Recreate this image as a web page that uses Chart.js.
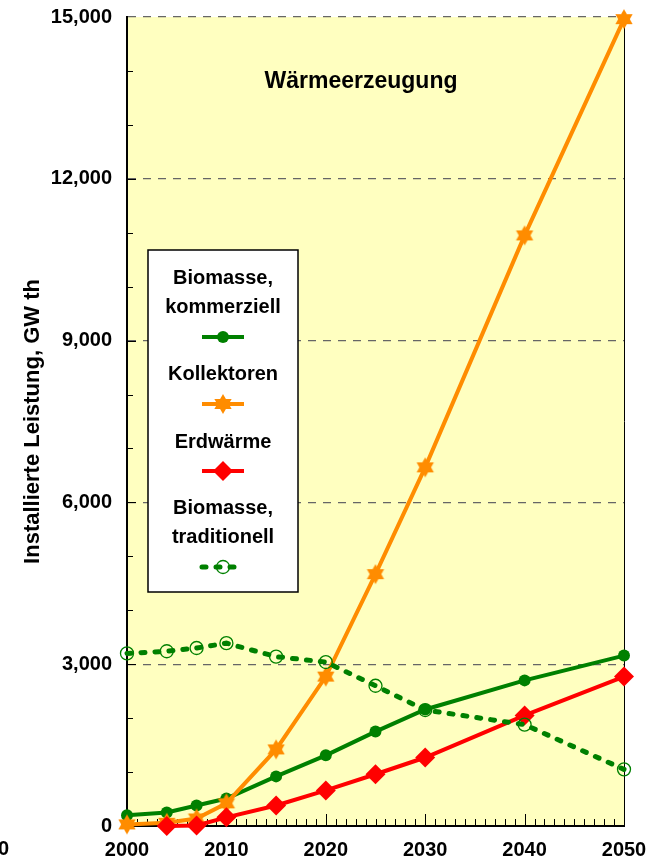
<!DOCTYPE html>
<html>
<head>
<meta charset="utf-8">
<script src="https://cdn.jsdelivr.net/npm/chart.js@4"></script>
<style>
  body { margin: 0; background: #fff; }
  canvas { display: block; }
</style>
</head>
<body>
<canvas id="waermeChart" width="651" height="863"></canvas>
<script>
"use strict";

// Values
const years = [2000, 2004, 2007, 2010, 2015, 2020, 2025, 2030, 2040, 2050];
const biomasseKommerziell = [200, 250, 380, 510, 920, 1310, 1750, 2160, 2700, 3160];
const kollektoren = [30, 60, 140, 420, 1420, 2770, 4670, 6650, 10950, 14960];
const erdwaerme = [null, 0, 10, 160, 380, 660, 960, 1270, 2050, 2770];
const biomasseTraditionell = [3200, 3240, 3300, 3390, 3140, 3040, 2600, 2150, 1880, 1050];

const seriesNames = ["Biomasse,\nkommerziell", "Kollektoren", "Erdwärme", "Biomasse,\ntraditionell"];
const yTicks = [0, 3000, 6000, 9000, 12000, 15000];
const xTicks = [2000, 2010, 2020, 2030, 2040, 2050];

const FONT = "'Liberation Sans', Arial, sans-serif";
const GREEN = "#008000";
const ORANGE = "#FF8C00";
const RED = "#FF0000";

// six-pointed star used as marker for the Kollektoren series
function makeHexagram(r, color) {
	const c = document.createElement("canvas");
	c.width = r * 2 + 2;
	c.height = r * 2 + 2;
	const g = c.getContext("2d");
	const cx = r + 1, cy = r + 1;
	g.fillStyle = color;
	[-Math.PI / 2, Math.PI / 2].forEach(function (start) {
		g.beginPath();
		for (let i = 0; i < 3; i++) {
			const a = start + i * 2 * Math.PI / 3;
			const px = cx + r * Math.cos(a), py = cy + r * Math.sin(a);
			if (i === 0) g.moveTo(px, py); else g.lineTo(px, py);
		}
		g.closePath();
		g.fill();
	});
	return c;
}
const hexagram = makeHexagram(10, ORANGE);

function toPoints(values) {
	return years.map(function (year, i) {
		return { x: year, y: values[i] };
	});
}

// background, minor ticks, right border, texts and the boxed legend
const decorations = {
	id: "decorations",
	beforeDraw(chart) {
		const a = chart.chartArea;
		const ctx = chart.ctx;
		ctx.save();
		ctx.fillStyle = "#FFFFC0";
		ctx.fillRect(a.left, a.top, a.right - a.left, a.bottom - a.top);
		ctx.restore();
	},
	beforeDatasetsDraw(chart) {
		const a = chart.chartArea;
		const ctx = chart.ctx;
		const xs = chart.scales.x;
		const ys = chart.scales.y;
		ctx.save();
		ctx.strokeStyle = "#000";
		ctx.lineWidth = 1;
		for (let yr = 2001; yr < 2050; yr++) {
			const px = Math.round(xs.getPixelForValue(yr)) + 0.5;
			const len = yr % 10 === 0 ? 12 : 7;
			ctx.beginPath();
			ctx.moveTo(px, a.bottom);
			ctx.lineTo(px, a.bottom - len);
			ctx.stroke();
		}
		for (let v = 1000; v < 15000; v += 1000) {
			const py = Math.round(ys.getPixelForValue(v)) + 0.5;
			const len = v % 3000 === 0 ? 9 : 6;
			ctx.beginPath();
			ctx.moveTo(a.left, py);
			ctx.lineTo(a.left + len, py);
			ctx.stroke();
		}
		// right border
		ctx.beginPath();
		ctx.moveTo(a.right + 0.5, a.top);
		ctx.lineTo(a.right + 0.5, a.bottom);
		ctx.stroke();
		ctx.restore();
	},
	afterDraw(chart) {
		const a = chart.chartArea;
		const ctx = chart.ctx;
		ctx.save();
		ctx.fillStyle = "#000";
		ctx.textAlign = "center";
		ctx.textBaseline = "middle";

		// chart title inside the plot
		ctx.font = "bold 23px " + FONT;
		ctx.fillText("Wärmeerzeugung", 361, 82);

		// y axis title
		ctx.save();
		ctx.translate(33, (a.top + a.bottom) / 2);
		ctx.rotate(-Math.PI / 2);
		ctx.font = "bold 22px " + FONT;
		ctx.fillText("Installierte Leistung, GW th", 0, 0);
		ctx.restore();

		// cut-off label of the neighbouring chart
		ctx.font = "bold 20px " + FONT;
		ctx.textAlign = "right";
		ctx.fillText("0", 9, 849);
		ctx.textAlign = "center";

		// legend box
		const box = { left: 148, top: 250, right: 298, bottom: 592 };
		ctx.fillStyle = "#fff";
		ctx.fillRect(box.left, box.top, box.right - box.left, box.bottom - box.top);
		ctx.strokeStyle = "#000";
		ctx.lineWidth = 1.5;
		ctx.strokeRect(box.left, box.top, box.right - box.left, box.bottom - box.top);

		const cx = (box.left + box.right) / 2;
		const textRows = [[278, 307], [374], [442], [508, 537]];
		const sampleRows = [337, 404, 471, 567];
		ctx.font = "bold 20px " + FONT;
		ctx.fillStyle = "#000";
		seriesNames.forEach(function (name, i) {
			name.split("\n").forEach(function (line, j) {
				ctx.fillText(line, cx, textRows[i][j]);
			});
		});

		chart.data.datasets.forEach(function (ds, i) {
			const sy = sampleRows[i];
			ctx.save();
			ctx.strokeStyle = ds.borderColor;
			ctx.lineWidth = ds.borderWidth;
			ctx.lineCap = ds.borderCapStyle || "butt";
			ctx.setLineDash(ds.borderDash || []);
			ctx.beginPath();
			ctx.moveTo(cx - 21, sy);
			ctx.lineTo(cx + 21, sy);
			ctx.stroke();
			ctx.setLineDash([]);
			ctx.fillStyle = ds.pointBackgroundColor || ds.borderColor;
			ctx.strokeStyle = ds.pointBorderColor || ds.borderColor;
			ctx.lineWidth = ds.pointBorderWidth || 0;
			Chart.helpers.drawPoint(ctx, {
				pointStyle: ds.pointStyle,
				radius: ds.pointRadius,
				rotation: 0,
				borderWidth: ds.pointBorderWidth || 0
			}, cx, sy);
			ctx.restore();
		});
		ctx.restore();
	}
};

const ctx = document.getElementById("waermeChart");

new Chart(ctx, {
	type: "line",
	data: {
		datasets: [
			{
				label: "Biomasse, kommerziell",
				data: toPoints(biomasseKommerziell),
				borderColor: GREEN,
				backgroundColor: GREEN,
				borderWidth: 4,
				pointStyle: "circle",
				pointRadius: 6,
				pointBorderWidth: 0,
				pointBackgroundColor: GREEN,
				order: 3
			},
			{
				label: "Kollektoren",
				data: toPoints(kollektoren),
				borderColor: ORANGE,
				backgroundColor: ORANGE,
				borderWidth: 4,
				pointStyle: hexagram,
				pointRadius: 10,
				order: 2
			},
			{
				label: "Erdwärme",
				data: toPoints(erdwaerme),
				borderColor: RED,
				backgroundColor: RED,
				borderWidth: 4,
				pointStyle: "rectRot",
				pointRadius: 10,
				pointBorderWidth: 0,
				pointBackgroundColor: RED,
				order: 1
			},
			{
				label: "Biomasse, traditionell",
				data: toPoints(biomasseTraditionell),
				borderColor: GREEN,
				backgroundColor: "rgba(0,0,0,0)",
				borderWidth: 5,
				borderDash: [4, 10],
				borderCapStyle: "round",
				pointStyle: "circle",
				pointRadius: 6.5,
				pointBorderWidth: 1.3,
				pointBorderColor: GREEN,
				pointBackgroundColor: "rgba(0,0,0,0)",
				order: 0
			}
		]
	},
	options: {
		responsive: false,
		animation: false,
		events: [],
		clip: false,
		layout: {
			padding: { top: 17, right: 27, bottom: 0, left: 0 }
		},
		elements: {
			line: { tension: 0, fill: false }
		},
		scales: {
			x: {
				type: "linear",
				min: 2000,
				max: 2050,
				afterBuildTicks(scale) {
					scale.ticks = xTicks.map(function (v) { return { value: v }; });
				},
				afterFit(scale) {
					scale.height = 37;
					scale.paddingLeft = 0;
					scale.paddingRight = 0;
				},
				ticks: {
					color: "#000",
					font: { family: FONT, size: 20, weight: "bold" },
					padding: 12,
					maxRotation: 0,
					autoSkip: false,
					callback(value) { return String(value); }
				},
				grid: { display: false, drawTicks: false },
				border: { display: true, color: "#000", width: 2 }
			},
			y: {
				min: 0,
				max: 15000,
				afterBuildTicks(scale) {
					scale.ticks = yTicks.map(function (v) { return { value: v }; });
				},
				afterFit(scale) {
					scale.width = 127;
					scale.paddingTop = 0;
					scale.paddingBottom = 0;
				},
				ticks: {
					color: "#000",
					font: { family: FONT, size: 20, weight: "bold" },
					padding: 15,
					callback(value) { return value.toLocaleString("en-US"); }
				},
				grid: {
					drawTicks: false,
					color: "#666666",
					lineWidth: 1.3
				},
				border: { display: true, color: "#000", width: 2, dash: [8, 7] }
			}
		},
		plugins: {
			legend: { display: false },
			tooltip: { enabled: false }
		}
	},
	plugins: [decorations]
});
</script>
</body>
</html>
